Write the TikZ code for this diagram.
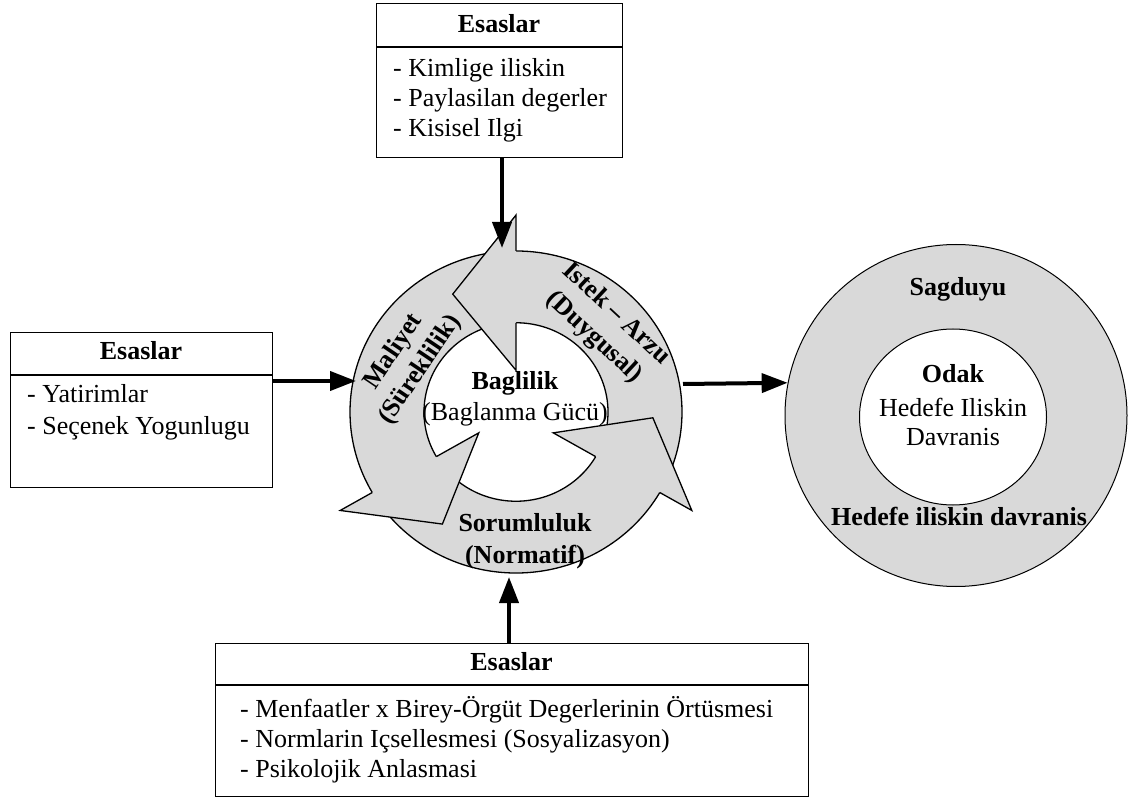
\documentclass[tikz,border=0pt]{standalone}
\usepackage{fontspec}
\setmainfont{Liberation Serif}
\usetikzlibrary{arrows.meta,shapes.geometric}
\definecolor{ringgray}{RGB}{217,217,217}
\begin{document}
\begin{tikzpicture}[x=1pt,y=-1pt,
  font=\fontsize{26}{30}\selectfont,
  box/.style={draw, line width=1.1pt, fill=white, rectangle, inner sep=0pt, anchor=north west},
  boxtitle/.style={anchor=base, font=\fontsize{26}{30}\selectfont\bfseries},
  item/.style={anchor=base west, inner sep=0pt},
  plain/.style={anchor=base, inner sep=0pt},
  heavy/.style={anchor=base, inner sep=0pt, font=\fontsize{26}{30}\selectfont\bfseries},
  arclabel/.style={align=center, inner sep=0pt, font=\fontsize{26}{32}\selectfont\bfseries},
  conn/.style={line width=4pt, -{Triangle[length=26pt,width=19pt]}},
  rim/.style={line width=1.3pt, line join=miter}]
\useasboundingbox (0,0) rectangle (1133,799);

% ---- cycle of three curved block arrows ----
\begin{scope}[shift={(516,412)}, yscale=-0.97]
  % curved bodies (tails tucked under the previous head)
  \foreach \ts/\te in {-27/92, 93/212, 213/332} {
    \fill[ringgray] plot[domain=\ts:\te, samples=90] (\x:166)
      -- plot[domain=\te:\ts, samples=90] (\x:92) -- cycle;
    \draw[rim] plot[domain=\ts:\te, samples=90] (\x:166);
    \draw[rim] plot[domain=\ts:\te, samples=90] (\x:92);
  }
  % arrow heads
  \foreach \b in {90,210,330} {
    \fill[ringgray] (\b:203) -- ({\b+27.5}:137) -- (\b:43) -- cycle;
    \draw[rim] (\b:166) -- (\b:203) -- ({\b+27.5}:137) -- (\b:43) -- (\b:92);
  }
\end{scope}

% labels on and inside the cycle
\node[arclabel, rotate=-43] (istek) at (605,326) {Istek \textendash\ Arzu\\(Duygusal)};
\node[arclabel, rotate=56] (maliyet) at (407,361) {Maliyet\\(Süreklilik)};
\node[heavy] (soruml) at (525,531) {Sorumluluk};
\node[heavy] (normatif) at (525,563) {(Normatif)};
\node[heavy] (baglilik) at (515,390) {Baglilik};
\node[plain] (baglanma) at (515,421) {(Baglanma Gücü)};

% ---- target circle ----
\node[circle, draw, line width=1pt, fill=ringgray, minimum size=342pt, inner sep=0pt] (target) at (956,415.5) {};
\node[ellipse, draw, line width=1pt, fill=white, minimum width=187pt, minimum height=176pt, inner sep=0pt] (focus) at (953,417) {};
\node[heavy] (sagduyu) at (958,296) {Sagduyu};
\node[heavy] (odak) at (953,383) {Odak};
\node[plain] (hedef1) at (953,417) {Hedefe Iliskin};
\node[plain] (hedef2) at (953,446) {Davranis};
\node[heavy] (hedef3) at (959,525) {Hedefe iliskin davranis};

% ---- top box ----
\node[box, minimum width=246pt, minimum height=154pt] (tbox) at (376,3) {};
\draw[line width=1.1pt] (376,47) -- (622,47);
\node[boxtitle] (ttitle) at (499,33) {Esaslar};
\node[item] (t1) at (393,77) {- Kimlige iliskin};
\node[item] (t2) at (393,107) {- Paylasilan degerler};
\node[item] (t3) at (393,137) {- Kisisel Ilgi};

% ---- left box ----
\node[box, minimum width=262pt, minimum height=155pt] (lbox) at (10,332) {};
\draw[line width=1.1pt] (10,375) -- (272,375);
\node[boxtitle] (ltitle) at (141,360) {Esaslar};
\node[item] (l1) at (27,403) {- Yatirimlar};
\node[item] (l2) at (27,435) {- Seçenek Yogunlugu};

% ---- bottom box ----
\node[box, minimum width=593pt, minimum height=153pt] (bbox) at (215,643) {};
\draw[line width=1.1pt] (215,685) -- (808,685);
\node[boxtitle] (btitle) at (511.5,670) {Esaslar};
\node[item] (b1) at (240,717) {- Menfaatler x Birey-Örgüt Degerlerinin Örtüsmesi};
\node[item] (b2) at (240,747) {- Normlarin Içsellesmesi (Sosyalizasyon)};
\node[item] (b3) at (240,777) {- Psikolojik Anlasmasi};

% ---- connectors ----
\coordinate (ringN) at (502,248);
\coordinate (ringW) at (356,381);
\coordinate (ringS) at (509,577);
\coordinate (ringE) at (683,384);
\draw[conn] (tbox.south -| ringN) -- (ringN);
\draw[conn] (lbox.east |- ringW) -- (ringW);
\draw[conn] (bbox.north -| ringS) -- (ringS);
\draw[conn] (ringE) -- (target.169.4);
\end{tikzpicture}
\end{document}
